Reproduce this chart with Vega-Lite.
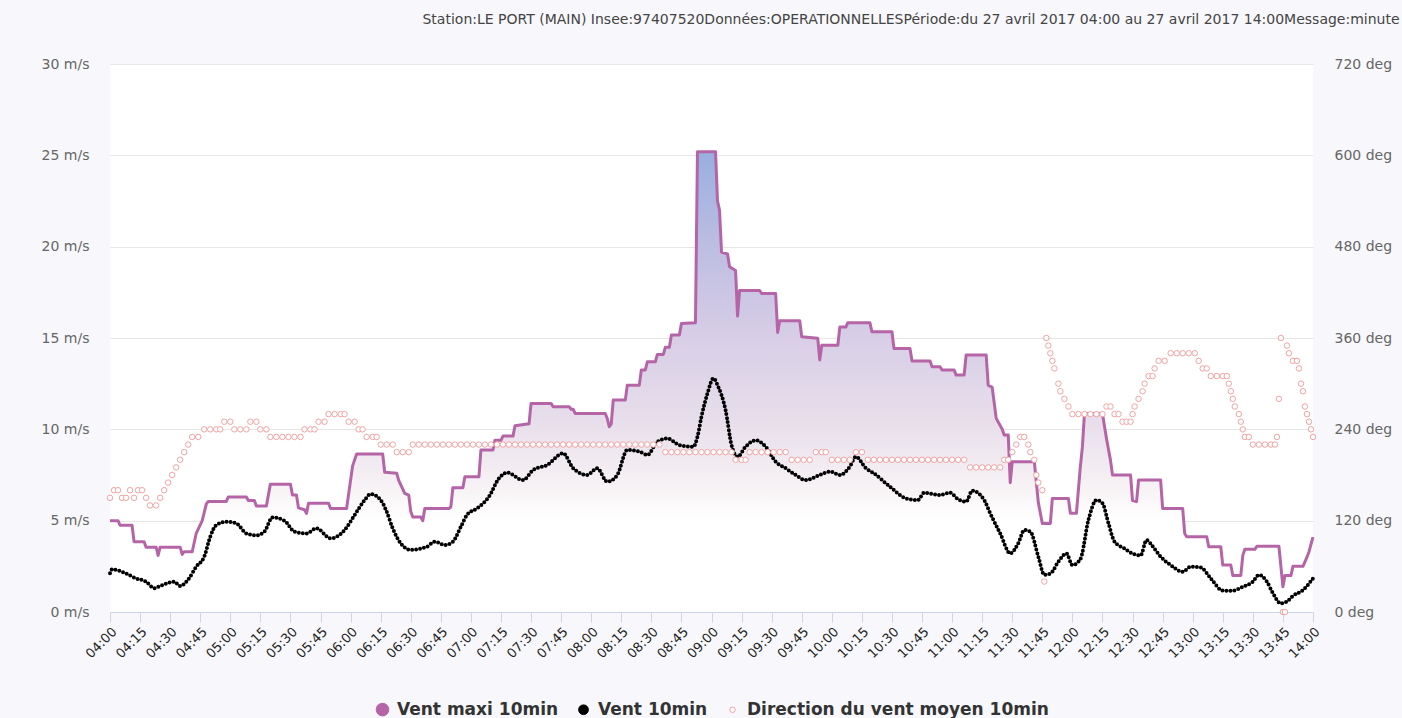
{
  "$schema": "https://vega.github.io/schema/vega-lite/v6.json",
  "width": 1203,
  "height": 548,
  "padding": {"left": 41, "top": 13, "right": 4, "bottom": 2},
  "background": "#f8f8fc",
  "title": {
    "text": "Station:LE PORT (MAIN) Insee:97407520Données:OPERATIONNELLESPériode:du 27 avril 2017 04:00 au 27 avril 2017 14:00Message:minute",
    "anchor": "end",
    "frame": "bounds",
    "font": "DejaVu Sans",
    "fontSize": 14,
    "fontWeight": "normal",
    "color": "#444444",
    "offset": 30,
    "dx": 8
  },
  "config": {
    "view": {"stroke": null, "fill": "#ffffff"},
    "legend": {"layout": {"bottom": {"anchor": "middle"}}}
  },
  "resolve": {"scale": {"y": "independent"}},
  "encoding": {
    "x": {
      "field": "t",
      "type": "temporal",
      "scale": {"domain": [{"year": 1900, "month": 1, "date": 1, "hours": 4}, {"year": 1900, "month": 1, "date": 1, "hours": 14}]},
      "axis": {
        "title": null,
        "format": "%H:%M",
        "tickCount": 40,
        "labelAngle": -45,
        "grid": false,
        "domainColor": "#ccd6eb",
        "tickColor": "#ccd6eb",
        "tickSize": 10,
        "labelFont": "DejaVu Sans",
        "labelFontSize": 13,
        "labelColor": "#222222",
        "labelPadding": 3,
        "labelOverlap": false,
        "labelFlush": false
      }
    }
  },
  "layer": [
    {
      "encoding": {
        "y": {
          "field": "v",
          "type": "quantitative",
          "scale": {"domain": [0, 30], "nice": false},
          "axis": {
            "title": null,
            "values": [0, 5, 10, 15, 20, 25, 30],
            "labelExpr": "datum.value + ' m/s'",
            "grid": true,
            "gridColor": "#e6e6e6",
            "domain": false,
            "ticks": false,
            "tickSize": 0,
            "labelPadding": 21,
            "labelColor": "#666666",
            "labelFont": "DejaVu Sans",
            "labelFontSize": 14
          }
        }
      },
      "layer": [
        {
          "data": {
            "format": {"parse": {"t": "date:'%H:%M'"}},
            "values": [
              {"t":"04:00","v":5.0},{"t":"04:04","v":5.0},{"t":"04:05","v":4.75},{"t":"04:11","v":4.75},{"t":"04:12","v":3.85},{"t":"04:17","v":3.85},{"t":"04:18","v":3.55},{"t":"04:23","v":3.55},{"t":"04:24","v":3.1},{"t":"04:25","v":3.55},{"t":"04:35","v":3.55},{"t":"04:36","v":3.15},{"t":"04:37","v":3.3},{"t":"04:41","v":3.3},{"t":"04:43","v":4.3},{"t":"04:46","v":5.0},{"t":"04:48","v":5.9},{"t":"04:49","v":6.05},{"t":"04:58","v":6.05},{"t":"04:59","v":6.3},{"t":"05:08","v":6.3},{"t":"05:09","v":6.1},{"t":"05:12","v":6.1},{"t":"05:13","v":5.8},{"t":"05:18","v":5.8},{"t":"05:19","v":6.4},{"t":"05:20","v":7.0},{"t":"05:30","v":7.0},{"t":"05:31","v":6.4},{"t":"05:33","v":6.4},{"t":"05:34","v":5.7},{"t":"05:37","v":5.6},{"t":"05:38","v":5.4},{"t":"05:39","v":5.95},{"t":"05:49","v":5.95},{"t":"05:50","v":5.67},{"t":"05:58","v":5.67},{"t":"06:01","v":8.0},{"t":"06:03","v":8.65},{"t":"06:16","v":8.65},{"t":"06:17","v":7.65},{"t":"06:23","v":7.6},{"t":"06:24","v":7.2},{"t":"06:27","v":6.5},{"t":"06:29","v":6.4},{"t":"06:30","v":5.5},{"t":"06:31","v":5.2},{"t":"06:35","v":5.2},{"t":"06:36","v":5.0},{"t":"06:37","v":5.67},{"t":"06:49","v":5.67},{"t":"06:50","v":5.75},{"t":"06:51","v":6.8},{"t":"06:56","v":6.8},{"t":"06:57","v":7.4},{"t":"07:04","v":7.4},{"t":"07:05","v":8.87},{"t":"07:11","v":8.87},{"t":"07:12","v":9.4},{"t":"07:15","v":9.4},{"t":"07:16","v":9.63},{"t":"07:21","v":9.63},{"t":"07:22","v":10.2},{"t":"07:29","v":10.3},{"t":"07:30","v":11.42},{"t":"07:40","v":11.42},{"t":"07:41","v":11.24},{"t":"07:49","v":11.24},{"t":"07:50","v":11.1},{"t":"07:51","v":11.1},{"t":"07:52","v":10.87},{"t":"08:07","v":10.87},{"t":"08:08","v":10.6},{"t":"08:09","v":10.14},{"t":"08:10","v":10.3},{"t":"08:11","v":11.6},{"t":"08:17","v":11.6},{"t":"08:18","v":12.42},{"t":"08:24","v":12.42},{"t":"08:25","v":13.25},{"t":"08:27","v":13.25},{"t":"08:28","v":13.7},{"t":"08:32","v":13.7},{"t":"08:33","v":14.1},{"t":"08:36","v":14.1},{"t":"08:37","v":14.5},{"t":"08:39","v":14.5},{"t":"08:40","v":15.16},{"t":"08:44","v":15.16},{"t":"08:45","v":15.8},{"t":"08:52","v":15.84},{"t":"08:53","v":25.2},{"t":"09:02","v":25.2},{"t":"09:03","v":22.5},{"t":"09:04","v":22.0},{"t":"09:05","v":19.7},{"t":"09:08","v":19.6},{"t":"09:09","v":18.9},{"t":"09:12","v":18.7},{"t":"09:13","v":16.2},{"t":"09:14","v":17.6},{"t":"09:24","v":17.6},{"t":"09:25","v":17.44},{"t":"09:32","v":17.44},{"t":"09:33","v":15.3},{"t":"09:34","v":15.95},{"t":"09:44","v":15.95},{"t":"09:45","v":15.07},{"t":"09:53","v":14.98},{"t":"09:54","v":13.8},{"t":"09:55","v":14.6},{"t":"10:03","v":14.6},{"t":"10:04","v":15.6},{"t":"10:07","v":15.6},{"t":"10:08","v":15.84},{"t":"10:19","v":15.84},{"t":"10:20","v":15.34},{"t":"10:30","v":15.34},{"t":"10:31","v":14.43},{"t":"10:39","v":14.43},{"t":"10:40","v":13.74},{"t":"10:49","v":13.74},{"t":"10:50","v":13.43},{"t":"10:54","v":13.43},{"t":"10:55","v":13.25},{"t":"11:01","v":13.25},{"t":"11:02","v":12.97},{"t":"11:06","v":12.97},{"t":"11:07","v":14.07},{"t":"11:17","v":14.07},{"t":"11:18","v":12.42},{"t":"11:20","v":12.3},{"t":"11:22","v":10.6},{"t":"11:25","v":10.0},{"t":"11:26","v":9.69},{"t":"11:28","v":9.69},{"t":"11:29","v":7.08},{"t":"11:30","v":8.23},{"t":"11:41","v":8.23},{"t":"11:43","v":6.0},{"t":"11:45","v":4.85},{"t":"11:49","v":4.85},{"t":"11:50","v":6.22},{"t":"11:58","v":6.22},{"t":"11:59","v":5.4},{"t":"12:02","v":5.4},{"t":"12:04","v":8.0},{"t":"12:05","v":9.05},{"t":"12:06","v":10.85},{"t":"12:15","v":10.85},{"t":"12:17","v":9.5},{"t":"12:19","v":8.3},{"t":"12:20","v":7.5},{"t":"12:29","v":7.5},{"t":"12:30","v":6.1},{"t":"12:32","v":6.04},{"t":"12:33","v":7.22},{"t":"12:44","v":7.22},{"t":"12:45","v":5.67},{"t":"12:55","v":5.67},{"t":"12:56","v":4.3},{"t":"12:57","v":4.12},{"t":"13:07","v":4.12},{"t":"13:08","v":3.57},{"t":"13:14","v":3.57},{"t":"13:15","v":2.57},{"t":"13:19","v":2.57},{"t":"13:20","v":2.0},{"t":"13:24","v":2.0},{"t":"13:25","v":3.1},{"t":"13:26","v":3.43},{"t":"13:31","v":3.43},{"t":"13:32","v":3.6},{"t":"13:43","v":3.6},{"t":"13:45","v":1.38},{"t":"13:46","v":2.0},{"t":"13:49","v":2.0},{"t":"13:50","v":2.5},{"t":"13:55","v":2.5},{"t":"13:57","v":3.0},{"t":"13:58","v":3.3},{"t":"13:59","v":3.7},{"t":"14:00","v":4.1}
            ]
          },
          "layer": [
            {
              "mark": {
                "type": "area",
                "opacity": 1,
                "color": {
                  "gradient": "linear",
                  "x1": 0, "y1": 0, "x2": 0, "y2": 1,
                  "stops": [
                    {"offset": 0, "color": "#98afe0"},
                    {"offset": 0.2, "color": "#bcbde2"},
                    {"offset": 0.4, "color": "#d7cde6"},
                    {"offset": 0.6, "color": "#e9e0ec"},
                    {"offset": 0.72, "color": "#f6f1f4"},
                    {"offset": 0.8, "color": "#ffffff"},
                    {"offset": 1, "color": "#ffffff"}
                  ]
                }
              }
            },
            {
              "mark": {"type": "line", "color": "#b565a7", "strokeWidth": 3, "strokeJoin": "round"}
            }
          ]
        },
        {
          "data": {
            "format": {"parse": {"t": "date:'%H:%M'"}},
            "values": [
              {"t":"04:00","v":2.12},{"t":"04:01","v":2.34},{"t":"04:07","v":2.16},{"t":"04:13","v":1.84},{"t":"04:18","v":1.66},{"t":"04:22","v":1.3},{"t":"04:25","v":1.42},{"t":"04:32","v":1.66},{"t":"04:35","v":1.42},{"t":"04:39","v":1.78},{"t":"04:43","v":2.48},{"t":"04:47","v":3.03},{"t":"04:50","v":4.12},{"t":"04:53","v":4.76},{"t":"04:58","v":4.94},{"t":"05:03","v":4.85},{"t":"05:08","v":4.3},{"t":"05:13","v":4.2},{"t":"05:17","v":4.4},{"t":"05:21","v":5.18},{"t":"05:27","v":5.0},{"t":"05:32","v":4.4},{"t":"05:38","v":4.3},{"t":"05:43","v":4.58},{"t":"05:50","v":4.03},{"t":"05:57","v":4.49},{"t":"06:02","v":5.31},{"t":"06:07","v":6.13},{"t":"06:10","v":6.46},{"t":"06:15","v":6.13},{"t":"06:18","v":5.49},{"t":"06:21","v":4.58},{"t":"06:25","v":3.76},{"t":"06:30","v":3.4},{"t":"06:38","v":3.57},{"t":"06:42","v":3.85},{"t":"06:47","v":3.67},{"t":"06:51","v":3.85},{"t":"06:55","v":4.67},{"t":"06:58","v":5.31},{"t":"07:03","v":5.67},{"t":"07:09","v":6.31},{"t":"07:14","v":7.32},{"t":"07:18","v":7.63},{"t":"07:26","v":7.22},{"t":"07:31","v":7.77},{"t":"07:38","v":8.05},{"t":"07:46","v":8.69},{"t":"07:51","v":7.87},{"t":"07:58","v":7.5},{"t":"08:03","v":7.87},{"t":"08:08","v":7.13},{"t":"08:13","v":7.5},{"t":"08:18","v":8.87},{"t":"08:24","v":8.78},{"t":"08:28","v":8.6},{"t":"08:33","v":9.32},{"t":"08:38","v":9.5},{"t":"08:44","v":9.14},{"t":"08:51","v":9.05},{"t":"08:53","v":9.6},{"t":"08:55","v":10.69},{"t":"08:58","v":11.97},{"t":"09:01","v":12.79},{"t":"09:03","v":12.42},{"t":"09:07","v":11.06},{"t":"09:10","v":9.14},{"t":"09:13","v":8.5},{"t":"09:17","v":9.05},{"t":"09:22","v":9.4},{"t":"09:27","v":9.05},{"t":"09:32","v":8.23},{"t":"09:37","v":7.87},{"t":"09:42","v":7.5},{"t":"09:47","v":7.22},{"t":"09:54","v":7.5},{"t":"09:59","v":7.69},{"t":"10:04","v":7.5},{"t":"10:09","v":7.96},{"t":"10:12","v":8.5},{"t":"10:17","v":7.87},{"t":"10:21","v":7.59},{"t":"10:29","v":6.86},{"t":"10:37","v":6.22},{"t":"10:43","v":6.13},{"t":"10:46","v":6.53},{"t":"10:54","v":6.4},{"t":"10:59","v":6.53},{"t":"11:03","v":6.17},{"t":"11:07","v":6.04},{"t":"11:10","v":6.64},{"t":"11:16","v":6.13},{"t":"11:19","v":5.4},{"t":"11:24","v":4.3},{"t":"11:29","v":3.21},{"t":"11:33","v":3.76},{"t":"11:36","v":4.49},{"t":"11:39","v":4.4},{"t":"11:43","v":3.03},{"t":"11:46","v":2.03},{"t":"11:49","v":2.1},{"t":"11:53","v":2.75},{"t":"11:57","v":3.21},{"t":"12:00","v":2.57},{"t":"12:04","v":2.9},{"t":"12:08","v":5.04},{"t":"12:12","v":6.13},{"t":"12:15","v":5.95},{"t":"12:18","v":4.85},{"t":"12:21","v":3.85},{"t":"12:26","v":3.48},{"t":"12:30","v":3.2},{"t":"12:34","v":3.1},{"t":"12:37","v":3.94},{"t":"12:40","v":3.6},{"t":"12:44","v":3.03},{"t":"12:49","v":2.57},{"t":"12:55","v":2.2},{"t":"12:59","v":2.48},{"t":"13:04","v":2.44},{"t":"13:09","v":1.84},{"t":"13:15","v":1.17},{"t":"13:20","v":1.17},{"t":"13:25","v":1.38},{"t":"13:30","v":1.66},{"t":"13:33","v":2.03},{"t":"13:37","v":1.66},{"t":"13:40","v":1.03},{"t":"13:44","v":0.47},{"t":"13:47","v":0.57},{"t":"13:50","v":0.88},{"t":"13:55","v":1.2},{"t":"14:00","v":1.84}
            ]
          },
          "mark": {"type": "line", "color": "#000000", "strokeWidth": 4, "strokeDash": [0, 4], "strokeCap": "round", "interpolate": "monotone"}
        }
      ]
    },
    {
      "data": {
        "format": {"parse": {"t": "date:'%H:%M'"}},
        "values": [
          {"t":"04:00","d":150},{"t":"04:02","d":160},{"t":"04:04","d":160},{"t":"04:06","d":150},{"t":"04:08","d":150},{"t":"04:10","d":160},{"t":"04:12","d":150},{"t":"04:14","d":160},{"t":"04:16","d":160},{"t":"04:18","d":150},{"t":"04:20","d":140},{"t":"04:23","d":140},{"t":"04:25","d":150},{"t":"04:27","d":160},{"t":"04:29","d":170},{"t":"04:31","d":180},{"t":"04:33","d":190},{"t":"04:35","d":200},{"t":"04:37","d":210},{"t":"04:39","d":220},{"t":"04:41","d":230},{"t":"04:44","d":230},{"t":"04:47","d":240},{"t":"04:50","d":240},{"t":"04:53","d":240},{"t":"04:55","d":240},{"t":"04:57","d":250},{"t":"05:00","d":250},{"t":"05:02","d":240},{"t":"05:05","d":240},{"t":"05:08","d":240},{"t":"05:10","d":250},{"t":"05:13","d":250},{"t":"05:15","d":240},{"t":"05:18","d":240},{"t":"05:20","d":230},{"t":"05:23","d":230},{"t":"05:26","d":230},{"t":"05:29","d":230},{"t":"05:32","d":230},{"t":"05:35","d":230},{"t":"05:37","d":240},{"t":"05:40","d":240},{"t":"05:42","d":240},{"t":"05:44","d":250},{"t":"05:47","d":250},{"t":"05:49","d":260},{"t":"05:52","d":260},{"t":"05:55","d":260},{"t":"05:57","d":260},{"t":"05:59","d":250},{"t":"06:02","d":250},{"t":"06:04","d":240},{"t":"06:06","d":240},{"t":"06:08","d":230},{"t":"06:11","d":230},{"t":"06:13","d":230},{"t":"06:15","d":220},{"t":"06:18","d":220},{"t":"06:21","d":220},{"t":"06:23","d":210},{"t":"06:26","d":210},{"t":"06:29","d":210},{"t":"06:31","d":220},{"t":"06:34","d":220},{"t":"06:37","d":220},{"t":"06:40","d":220},{"t":"06:43","d":220},{"t":"06:46","d":220},{"t":"06:49","d":220},{"t":"06:52","d":220},{"t":"06:55","d":220},{"t":"06:58","d":220},{"t":"07:01","d":220},{"t":"07:04","d":220},{"t":"07:07","d":220},{"t":"07:10","d":220},{"t":"07:13","d":220},{"t":"07:16","d":220},{"t":"07:19","d":220},{"t":"07:22","d":220},{"t":"07:25","d":220},{"t":"07:28","d":220},{"t":"07:31","d":220},{"t":"07:34","d":220},{"t":"07:37","d":220},{"t":"07:40","d":220},{"t":"07:43","d":220},{"t":"07:46","d":220},{"t":"07:49","d":220},{"t":"07:52","d":220},{"t":"07:55","d":220},{"t":"07:58","d":220},{"t":"08:01","d":220},{"t":"08:04","d":220},{"t":"08:07","d":220},{"t":"08:10","d":220},{"t":"08:13","d":220},{"t":"08:16","d":220},{"t":"08:19","d":220},{"t":"08:22","d":220},{"t":"08:25","d":220},{"t":"08:28","d":220},{"t":"08:31","d":220},{"t":"08:34","d":220},{"t":"08:37","d":210},{"t":"08:40","d":210},{"t":"08:43","d":210},{"t":"08:46","d":210},{"t":"08:49","d":210},{"t":"08:52","d":210},{"t":"08:55","d":210},{"t":"08:58","d":210},{"t":"09:01","d":210},{"t":"09:04","d":210},{"t":"09:07","d":210},{"t":"09:10","d":210},{"t":"09:12","d":200},{"t":"09:15","d":200},{"t":"09:17","d":200},{"t":"09:19","d":210},{"t":"09:22","d":210},{"t":"09:25","d":210},{"t":"09:28","d":210},{"t":"09:31","d":210},{"t":"09:34","d":210},{"t":"09:37","d":210},{"t":"09:40","d":200},{"t":"09:43","d":200},{"t":"09:46","d":200},{"t":"09:49","d":200},{"t":"09:52","d":210},{"t":"09:55","d":210},{"t":"09:57","d":210},{"t":"10:00","d":200},{"t":"10:03","d":200},{"t":"10:06","d":200},{"t":"10:09","d":200},{"t":"10:12","d":210},{"t":"10:15","d":210},{"t":"10:18","d":200},{"t":"10:21","d":200},{"t":"10:24","d":200},{"t":"10:27","d":200},{"t":"10:30","d":200},{"t":"10:33","d":200},{"t":"10:36","d":200},{"t":"10:39","d":200},{"t":"10:42","d":200},{"t":"10:45","d":200},{"t":"10:48","d":200},{"t":"10:51","d":200},{"t":"10:54","d":200},{"t":"10:57","d":200},{"t":"11:00","d":200},{"t":"11:03","d":200},{"t":"11:06","d":200},{"t":"11:09","d":190},{"t":"11:12","d":190},{"t":"11:15","d":190},{"t":"11:18","d":190},{"t":"11:21","d":190},{"t":"11:24","d":190},{"t":"11:26","d":200},{"t":"11:28","d":200},{"t":"11:30","d":210},{"t":"11:32","d":220},{"t":"11:34","d":230},{"t":"11:36","d":230},{"t":"11:38","d":220},{"t":"11:39","d":210},{"t":"11:41","d":200},{"t":"11:42","d":180},{"t":"11:43","d":170},{"t":"11:45","d":160},{"t":"11:46","d":40},{"t":"11:47","d":360},{"t":"11:48","d":350},{"t":"11:49","d":340},{"t":"11:50","d":330},{"t":"11:51","d":320},{"t":"11:53","d":300},{"t":"11:54","d":290},{"t":"11:56","d":280},{"t":"11:58","d":270},{"t":"12:00","d":260},{"t":"12:03","d":260},{"t":"12:06","d":260},{"t":"12:09","d":260},{"t":"12:12","d":260},{"t":"12:15","d":260},{"t":"12:17","d":270},{"t":"12:19","d":270},{"t":"12:21","d":260},{"t":"12:23","d":260},{"t":"12:25","d":250},{"t":"12:27","d":250},{"t":"12:29","d":250},{"t":"12:30","d":260},{"t":"12:31","d":270},{"t":"12:33","d":280},{"t":"12:35","d":290},{"t":"12:36","d":300},{"t":"12:38","d":310},{"t":"12:40","d":310},{"t":"12:41","d":320},{"t":"12:43","d":330},{"t":"12:46","d":330},{"t":"12:49","d":340},{"t":"12:52","d":340},{"t":"12:55","d":340},{"t":"12:58","d":340},{"t":"13:01","d":340},{"t":"13:03","d":330},{"t":"13:05","d":320},{"t":"13:07","d":320},{"t":"13:09","d":310},{"t":"13:12","d":310},{"t":"13:15","d":310},{"t":"13:17","d":310},{"t":"13:18","d":300},{"t":"13:19","d":290},{"t":"13:20","d":280},{"t":"13:21","d":270},{"t":"13:23","d":260},{"t":"13:24","d":250},{"t":"13:25","d":240},{"t":"13:26","d":230},{"t":"13:28","d":230},{"t":"13:30","d":220},{"t":"13:33","d":220},{"t":"13:36","d":220},{"t":"13:39","d":220},{"t":"13:41","d":220},{"t":"13:42","d":230},{"t":"13:43","d":280},{"t":"13:44","d":360},{"t":"13:45","d":0},{"t":"13:46","d":0},{"t":"13:47","d":350},{"t":"13:48","d":340},{"t":"13:50","d":330},{"t":"13:52","d":330},{"t":"13:53","d":320},{"t":"13:54","d":300},{"t":"13:55","d":290},{"t":"13:56","d":270},{"t":"13:57","d":260},{"t":"13:58","d":250},{"t":"13:59","d":240},{"t":"14:00","d":230}
        ]
      },
      "mark": {"type": "point", "shape": "circle", "filled": true, "opacity": 1, "strokeWidth": 1},
      "encoding": {
        "y": {
          "field": "d",
          "type": "quantitative",
          "scale": {"domain": [0, 720], "nice": false},
          "axis": {
            "orient": "right",
            "title": null,
            "values": [0, 120, 240, 360, 480, 600, 720],
            "labelExpr": "datum.value + ' deg'",
            "grid": false,
            "domain": false,
            "ticks": false,
            "tickSize": 0,
            "labelPadding": 21,
            "labelColor": "#666666",
            "labelFont": "DejaVu Sans",
            "labelFontSize": 14
          }
        },
        "fill": {
          "datum": "Direction du vent moyen 10min",
          "type": "nominal",
          "scale": {"domain": ["Vent maxi 10min", "Vent 10min", "Direction du vent moyen 10min"], "range": ["#b565a7", "#000000", "#ffffff"]},
          "legend": {"title": null, "orient": "bottom", "direction": "horizontal", "symbolType": "circle", "labelFont": "DejaVu Sans", "labelFontSize": 17, "labelFontWeight": "bold", "labelColor": "#333333", "labelLimit": 400, "columnPadding": 16, "offset": 40, "symbolStrokeWidth": 1, "labelOffset": 6}
        },
        "stroke": {
          "datum": "Direction du vent moyen 10min",
          "type": "nominal",
          "scale": {"domain": ["Vent maxi 10min", "Vent 10min", "Direction du vent moyen 10min"], "range": ["#b565a7", "#000000", "#f2a3a3"]},
          "legend": {"title": null, "orient": "bottom", "direction": "horizontal", "symbolType": "circle", "labelFont": "DejaVu Sans", "labelFontSize": 17, "labelFontWeight": "bold", "labelColor": "#333333", "labelLimit": 400, "columnPadding": 16, "offset": 40, "symbolStrokeWidth": 1, "labelOffset": 6}
        },
        "size": {
          "datum": "Direction du vent moyen 10min",
          "type": "nominal",
          "scale": {"domain": ["Vent maxi 10min", "Vent 10min", "Direction du vent moyen 10min"], "range": [160, 30]},
          "legend": {"title": null, "orient": "bottom", "direction": "horizontal", "symbolType": "circle", "labelFont": "DejaVu Sans", "labelFontSize": 17, "labelFontWeight": "bold", "labelColor": "#333333", "labelLimit": 400, "columnPadding": 16, "offset": 40, "symbolStrokeWidth": 1, "labelOffset": 6}
        }
      }
    }
  ]
}
